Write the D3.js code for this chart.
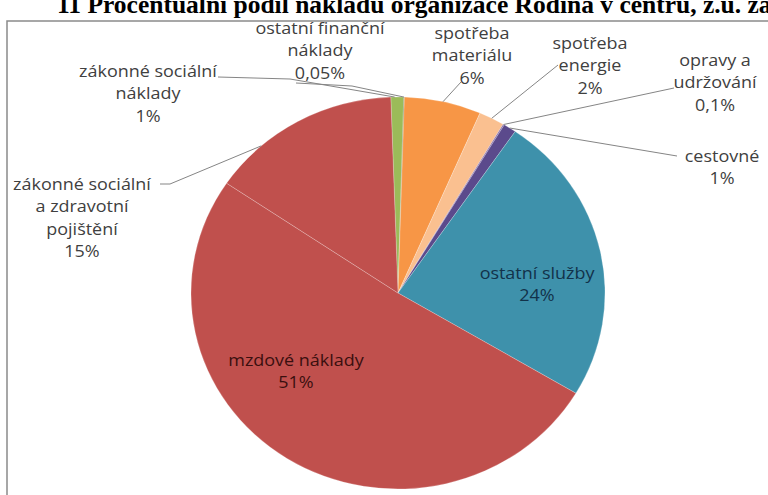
<!DOCTYPE html>
<html>
<head>
<meta charset="utf-8">
<script src="https://cdn.jsdelivr.net/npm/d3@7/dist/d3.min.js"></script>
<style>
  html, body { margin: 0; padding: 0; background: #fff; }
  svg { display: block; }
</style>
</head>
<body>
<svg id="chart" width="768" height="495"></svg>
<script>
// Cost categories, clockwise from the top of the pie
const categories = [
  "zákonné sociální náklady",
  "ostatní finanční náklady",
  "spotřeba materiálu",
  "spotřeba energie",
  "opravy a udržování",
  "cestovné",
  "ostatní služby",
  "mzdové náklady",
  "zákonné sociální a zdravotní pojištění"
];
// Share of total costs, in percent
const shares = [1, 0.05, 6, 2, 0.1, 1, 24, 51, 15];
// Percent labels as printed (Czech decimal comma)
const shareLabels = ["1%", "0,05%", "6%", "2%", "0,1%", "1%", "24%", "51%", "15%"];
// Category names broken into label lines
const nameLines = [
  ["zákonné sociální", "náklady"],
  ["ostatní finanční", "náklady"],
  ["spotřeba", "materiálu"],
  ["spotřeba", "energie"],
  ["opravy a", "udržování"],
  ["cestovné"],
  ["ostatní služby"],
  ["mzdové náklady"],
  ["zákonné sociální", "a zdravotní", "pojištění"]
];
const sliceColors = ["#9bbb59", "#4f6228", "#f79646", "#fac090", "#8064a2", "#5b4a8c", "#3e91ab", "#c0504d", "#c0504d"];

const titleText = "11 Procentuální podíl nákladů organizace Rodina v centru, z.ú. za";

// Label placement: centre x, first baseline, text colour,
// leader path (label end first) and where along the slice the leader meets the rim
const labelLayout = [
  { x: 148, y: 77,  color: "#404040", leader: [[218, 77], [290, 79]], at: 0.3 },
  { x: 320, y: 34,  color: "#404040", leader: [[296, 83], [352, 86]], at: 0.5 },
  { x: 472, y: 39,  color: "#404040", leader: [[461, 82]], at: 0.5 },
  { x: 590, y: 49,  color: "#404040", leader: [[558, 65]], at: 0.5 },
  { x: 715, y: 66,  color: "#404040", leader: [[674, 88]], at: 0.5 },
  { x: 722, y: 162, color: "#404040", leader: [[677, 156]], at: 0.5 },
  { x: 537, y: 279, color: "#12324a", leader: null },
  { x: 296, y: 366, color: "#3a0f0f", leader: null },
  { x: 82,  y: 190, color: "#404040", leader: [[160, 184], [170, 184]], at: 0.27 }
];

const svg = d3.select("#chart");
const W = 768, H = 495;

svg.append("rect").attr("width", W).attr("height", H).attr("fill", "#fff");

// Chart frame (extends past the visible page to the right and bottom)
svg.append("rect")
  .attr("x", 7).attr("y", 21)
  .attr("width", 820).attr("height", 520)
  .attr("fill", "#fff")
  .attr("stroke", "#8a8a8a")
  .attr("stroke-width", 1.5);

// Title, fitted to its measured span
const title = svg.append("text")
  .attr("x", 57).attr("y", 13)
  .attr("font-family", "'Liberation Serif', 'Times New Roman', serif")
  .attr("font-weight", "bold")
  .attr("font-size", 23)
  .attr("fill", "#000")
  .text(titleText);
const tw = title.node().getComputedTextLength();
title.attr("font-size", 23 * 715 / tw);

// Pie geometry (drawn slightly wider than tall)
const cx = 398, cy = 293, rx = 207, ry = 196;
const stretch = rx / ry;
const start = -2 * Math.PI / 180;

const pie = d3.pie()
  .sort(null)
  .value(d => d)
  .startAngle(start)
  .endAngle(start + 2 * Math.PI);
const arcs = pie(shares);

const arc = d3.arc().innerRadius(0).outerRadius(ry);

const pieG = svg.append("g")
  .attr("transform", `translate(${cx},${cy}) scale(${stretch},1)`);

pieG.selectAll("path")
  .data(arcs)
  .join("path")
  .attr("d", arc)
  .attr("fill", (d, i) => sliceColors[i])
  .attr("stroke", "rgba(255,255,255,0.22)")
  .attr("stroke-width", 1)
  .attr("vector-effect", "non-scaling-stroke");

// Point on the pie rim at a given angle
function rim(a) {
  return [cx + rx * Math.sin(a), cy - ry * Math.cos(a)];
}

// Leader lines from the outside labels to each slice's rim
const line = d3.line();
arcs.forEach((d, i) => {
  const lay = labelLayout[i];
  if (!lay.leader) return;
  const a = d.startAngle + (d.endAngle - d.startAngle) * lay.at;
  const pts = lay.leader.concat([rim(a)]);
  svg.append("path")
    .attr("d", line(pts))
    .attr("fill", "none")
    .attr("stroke", "#858585")
    .attr("stroke-width", 1);
});

// Data labels (same horizontal stretch as the pie)
const lh = 22.5;
arcs.forEach((d, i) => {
  const lay = labelLayout[i];
  const lines = nameLines[i].concat([shareLabels[i]]);
  const t = svg.append("g")
    .attr("transform", `translate(${lay.x},${lay.y}) scale(${stretch},1)`)
    .append("text")
    .attr("text-anchor", "middle")
    .attr("font-family", "'Open Sans', 'Noto Sans', sans-serif")
    .attr("font-size", 17)
    .attr("fill", lay.color);
  lines.forEach((s, k) => {
    t.append("tspan")
      .attr("x", 0)
      .attr("y", k * lh)
      .text(s);
  });
});
</script>
</body>
</html>
